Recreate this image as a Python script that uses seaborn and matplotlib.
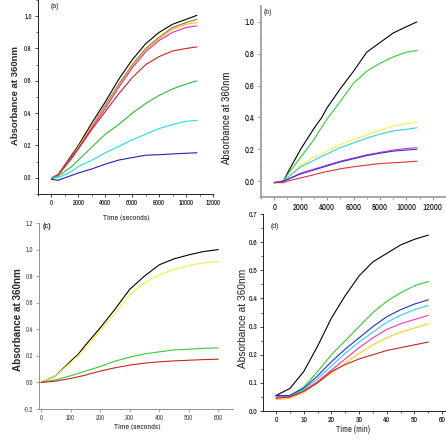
import matplotlib
matplotlib.use("Agg")
import matplotlib.pyplot as plt
import seaborn as sns
import pandas as pd
from matplotlib.ticker import MultipleLocator

# ---- panel (a) ----
time_a = [0, 500, 1000, 1500, 2000, 3000, 4000, 5000, 6000, 7000, 8000, 9000, 10000, 10800]
a_black = [-0.01, 0.02, 0.08, 0.14, 0.20, 0.34, 0.47, 0.61, 0.73, 0.83, 0.90, 0.95, 0.98, 1.005]
a_olive = [0.0, 0.02, 0.08, 0.13, 0.19, 0.32, 0.45, 0.58, 0.70, 0.80, 0.87, 0.93, 0.96, 0.98]
a_yellow = [0.0, 0.02, 0.07, 0.13, 0.19, 0.32, 0.44, 0.57, 0.69, 0.79, 0.86, 0.92, 0.95, 0.96]
a_magenta = [0.0, 0.02, 0.07, 0.13, 0.18, 0.31, 0.43, 0.56, 0.68, 0.78, 0.85, 0.90, 0.93, 0.94]
a_red = [-0.01, 0.02, 0.07, 0.12, 0.18, 0.30, 0.41, 0.52, 0.62, 0.70, 0.75, 0.785, 0.80, 0.81]
a_green = [0.0, 0.01, 0.04, 0.07, 0.11, 0.19, 0.27, 0.33, 0.40, 0.46, 0.51, 0.55, 0.58, 0.60]
a_cyan = [0.0, 0.0, 0.02, 0.04, 0.07, 0.11, 0.155, 0.195, 0.235, 0.27, 0.305, 0.33, 0.35, 0.355]
a_blue = [-0.01, -0.015, 0.0, 0.015, 0.03, 0.055, 0.085, 0.11, 0.125, 0.14, 0.143, 0.148, 0.152, 0.155]

# ---- panel (b) ----
time_b = [0, 700, 1000, 2000, 3000, 3600, 4000, 5000, 6000, 7000, 8000, 9000, 10000, 10800]
b_black = [-0.01, 0.0, 0.05, 0.20, 0.33, 0.40, 0.46, 0.58, 0.69, 0.81, 0.87, 0.93, 0.97, 1.0]
b_green = [-0.01, 0.0, 0.04, 0.15, 0.26, 0.34, 0.39, 0.50, 0.615, 0.69, 0.74, 0.78, 0.81, 0.82]
b_yellow = [-0.01, 0.0, 0.02, 0.10, 0.15, 0.17, 0.19, 0.23, 0.26, 0.29, 0.32, 0.345, 0.36, 0.37]
b_cyan = [-0.01, 0.0, 0.02, 0.09, 0.13, 0.155, 0.17, 0.21, 0.24, 0.27, 0.295, 0.315, 0.325, 0.335]
b_magenta = [-0.01, 0.0, 0.01, 0.05, 0.075, 0.09, 0.10, 0.125, 0.145, 0.165, 0.18, 0.195, 0.205, 0.21]
b_blue = [-0.01, 0.0, 0.01, 0.045, 0.07, 0.085, 0.095, 0.12, 0.14, 0.16, 0.175, 0.188, 0.195, 0.20]
b_red = [-0.01, -0.01, 0.0, 0.02, 0.04, 0.053, 0.06, 0.077, 0.09, 0.10, 0.11, 0.115, 0.12, 0.125]

# ---- panel (c) ----
time_c = [0, 50, 100, 125, 150, 200, 250, 300, 350, 400, 450, 500, 550, 600]
c_black = [0.0, 0.05, 0.16, 0.21, 0.28, 0.41, 0.55, 0.70, 0.80, 0.885, 0.93, 0.96, 0.985, 1.0]
c_yellow = [0.0, 0.05, 0.15, 0.20, 0.26, 0.39, 0.52, 0.66, 0.75, 0.81, 0.85, 0.88, 0.90, 0.91]
c_green = [0.0, 0.02, 0.05, 0.067, 0.085, 0.12, 0.16, 0.19, 0.215, 0.23, 0.245, 0.25, 0.257, 0.26]
c_red = [0.0, 0.01, 0.03, 0.042, 0.055, 0.085, 0.11, 0.13, 0.145, 0.155, 0.162, 0.167, 0.172, 0.175]

# ---- panel (d) ----
time_d = [0, 5, 10, 15, 20, 25, 30, 35, 40, 45, 50, 55]
d_black = [0.055, 0.08, 0.14, 0.23, 0.33, 0.41, 0.48, 0.53, 0.56, 0.59, 0.61, 0.625]
d_green = [0.05, 0.055, 0.085, 0.14, 0.20, 0.25, 0.30, 0.35, 0.39, 0.42, 0.445, 0.46]
d_blue = [0.055, 0.055, 0.08, 0.125, 0.175, 0.22, 0.26, 0.30, 0.335, 0.36, 0.38, 0.395]
d_cyan = [0.05, 0.05, 0.075, 0.115, 0.16, 0.205, 0.245, 0.28, 0.315, 0.34, 0.36, 0.375]
d_magenta = [0.05, 0.05, 0.07, 0.105, 0.145, 0.185, 0.225, 0.26, 0.29, 0.31, 0.325, 0.34]
d_yellow = [0.04, 0.045, 0.065, 0.10, 0.135, 0.17, 0.205, 0.235, 0.26, 0.28, 0.295, 0.31]
d_red = [0.045, 0.05, 0.07, 0.10, 0.14, 0.165, 0.185, 0.20, 0.215, 0.225, 0.235, 0.245]

# tick labels
xt_long = [0, 2000, 4000, 6000, 8000, 10000, 12000]
yt_ab = [0.0, 0.2, 0.4, 0.6, 0.8, 1.0]
xt_c = [0, 100, 200, 300, 400, 500, 600]
yt_c = [-0.2, 0.0, 0.2, 0.4, 0.6, 0.8, 1.0, 1.2]
xt_d = [0, 10, 20, 30, 40, 50, 60]
yt_d = [0.0, 0.1, 0.2, 0.3, 0.4, 0.5, 0.6, 0.7]


def long_frame(t, series):
    rows = []
    for name, vals in series.items():
        for x, y in zip(t, vals):
            rows.append({"time": x, "abs": y, "sample": name})
    return pd.DataFrame(rows)


def draw(ax, t, series, colors):
    df = long_frame(t, series)
    sns.lineplot(data=df, x="time", y="abs", hue="sample", palette=colors,
                 estimator=None, legend=False, linewidth=0.8, ax=ax)


sns.set_style("ticks")
plt.rcParams["font.family"] = ["Liberation Sans", "DejaVu Sans"]
narrow = ["Archivo Narrow", "DejaVu Sans"]

W, H = 446, 442
fig = plt.figure(figsize=(W / 100, H / 100), dpi=100)


def box(left, top, right, bottom):
    return [left / W, 1 - bottom / H, (right - left) / W, (bottom - top) / H]


def style(ax, spine_color, lw):
    for s in ["top", "right"]:
        ax.spines[s].set_visible(False)
    for s in ["left", "bottom"]:
        ax.spines[s].set_color(spine_color)
        ax.spines[s].set_linewidth(lw)


def ticks(ax, xt, yt, size, weight="bold", color="black"):
    ax.set_xticks(xt)
    ax.set_xticklabels([str(v) for v in xt], fontsize=size, fontweight=weight,
                       family=narrow, color=color)
    ax.set_yticks(yt)
    ax.set_yticklabels(["%.1f" % v for v in yt], fontsize=size, fontweight=weight,
                       family=narrow, color=color)


# (a)
ax_a = fig.add_axes(box(38, 0, 213, 194))
draw(ax_a, time_a,
     {"black": a_black, "olive": a_olive, "yellow": a_yellow, "magenta": a_magenta,
      "red": a_red, "green": a_green, "cyan": a_cyan, "blue": a_blue},
     ["#000000", "#8a7a30", "#f0c020", "#ee22cc", "#cc2222", "#33bb33", "#22ddee", "#2222aa"])
style(ax_a, "black", 0.6)
ax_a.set_xlim(-1000, 12000)
ax_a.set_ylim(-0.1, 1.1)
ticks(ax_a, xt_long, yt_ab, 4.8)
ax_a.xaxis.set_minor_locator(MultipleLocator(1000))
ax_a.yaxis.set_minor_locator(MultipleLocator(0.1))
ax_a.tick_params(which="major", length=2.5, width=0.6, pad=2)
ax_a.tick_params(which="minor", length=1.5, width=0.5)
ax_a.set_ylabel("Absorbance at 360nm", fontsize=6.8, fontweight="bold", va="center")
ax_a.yaxis.set_label_coords(-0.126, 0.51)
ax_a.set_xlabel("Time (seconds)", fontsize=5.8, family=narrow, va="center")
ax_a.xaxis.set_label_coords(0.503, -0.124)
fig.text(55 / W, 1 - 7 / H, "(a)", fontsize=5, ha="center", va="center")

# (b)
ax_b = fig.add_axes(box(261, 6, 446, 197))
draw(ax_b, time_b,
     {"black": b_black, "green": b_green, "yellow": b_yellow, "cyan": b_cyan,
      "magenta": b_magenta, "blue": b_blue, "red": b_red},
     ["#000000", "#33cc33", "#ffee44", "#33ccee", "#cc33dd", "#3333cc", "#dd3333"])
style(ax_b, "#a0a0a0", 1.3)
ax_b.set_xlim(-1000, 13000)
ax_b.set_ylim(-0.1, 1.1)
ticks(ax_b, xt_long, yt_ab, 6.2)
ax_b.xaxis.set_minor_locator(MultipleLocator(1000))
ax_b.yaxis.set_minor_locator(MultipleLocator(0.1))
ax_b.tick_params(which="major", length=2.5, width=0.6, pad=2, color="#808080")
ax_b.tick_params(which="minor", length=1.5, width=0.5, color="#808080")
ax_b.set_ylabel("Absorbance at 360nm", fontsize=8.3, family=narrow, va="center")
ax_b.yaxis.set_label_coords(-0.184, 0.41)
ax_b.set_xlabel("Time (seconds)", fontsize=6.3, family=narrow, va="center")
ax_b.xaxis.set_label_coords(0.497, -0.136)
fig.text(268 / W, 1 - 13 / H, "(b)", fontsize=5, ha="center", va="center")

# (c)
ax_c = fig.add_axes(box(39, 223, 233, 409))
draw(ax_c, time_c,
     {"black": c_black, "yellow": c_yellow, "green": c_green, "red": c_red},
     ["#000000", "#f6f040", "#33cc33", "#cc2222"])
style(ax_c, "#808080", 0.6)
ax_c.set_xlim(-7, 650)
ax_c.set_ylim(-0.2, 1.2)
ticks(ax_c, xt_c, yt_c, 4.8, weight="normal", color="#444444")
ax_c.tick_params(which="major", length=2, width=0.5, pad=2, color="#808080")
ax_c.set_ylabel("Absorbance at 360nm", fontsize=7.1, fontweight="bold", va="center")
ax_c.yaxis.set_label_coords(-0.108, 0.478)
ax_c.set_xlabel("Time (seconds)", fontsize=5.8, family=narrow, va="center")
ax_c.xaxis.set_label_coords(0.505, -0.097)
fig.text(47 / W, 1 - 227 / H, "(c)", fontsize=5, fontweight="bold", ha="center", va="center")

# (d)
ax_d = fig.add_axes(box(263, 214, 446, 411))
draw(ax_d, time_d,
     {"black": d_black, "green": d_green, "blue": d_blue, "cyan": d_cyan,
      "magenta": d_magenta, "yellow": d_yellow, "red": d_red},
     ["#000000", "#33cc33", "#2233bb", "#33ccee", "#ee33cc", "#f5d020", "#cc2222"])
style(ax_d, "black", 0.6)
ax_d.set_xlim(-4.7, 61.4)
ax_d.set_ylim(0, 0.7)
ticks(ax_d, xt_d, yt_d, 5.6)
ax_d.xaxis.set_minor_locator(MultipleLocator(5))
ax_d.yaxis.set_minor_locator(MultipleLocator(0.05))
ax_d.tick_params(which="major", length=2.5, width=0.6, pad=1.5)
ax_d.tick_params(which="minor", length=1.5, width=0.5)
ax_d.set_ylabel("Absorbance at 360nm", fontsize=7.3, va="center")
ax_d.yaxis.set_label_coords(-0.109, 0.472)
ax_d.set_xlabel("Time (min)", fontsize=6.0, family=narrow, va="center")
ax_d.xaxis.set_label_coords(0.49, -0.095)
fig.text(275 / W, 1 - 227 / H, "(d)", fontsize=5, ha="center", va="center")

fig.savefig("out.png", dpi=100)
plt.close(fig)
